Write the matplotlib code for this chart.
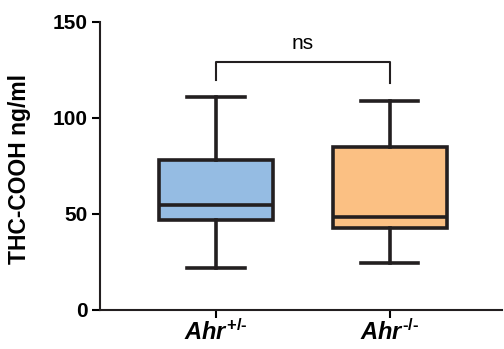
import matplotlib
matplotlib.use("Agg")
import matplotlib.pyplot as plt

plt.rcParams['font.family'] = ['Liberation Sans', 'DejaVu Sans']
plt.rcParams['font.weight'] = 'bold'
plt.rcParams['mathtext.fontset'] = 'custom'
plt.rcParams['mathtext.rm'] = 'Liberation Sans:bold'
plt.rcParams['mathtext.it'] = 'Liberation Sans:italic:bold'
plt.rcParams['mathtext.bf'] = 'Liberation Sans:bold'

# box summary values
groups = ['$\\mathit{Ahr}^{\\mathit{+/\u2010}}$', '$\\mathit{Ahr}^{\\mathit{\u2010/\u2010}}$']
medians = [54.5, 48.5]
q1 = [47.0, 42.7]
q3 = [78.0, 84.7]
whislo = [22.0, 24.5]
whishi = [111.0, 109.0]
colors = ['#95BCE3', '#FBC083']
ink = '#231F20'

stats = []
for i in range(2):
    stats.append(dict(med=medians[i], q1=q1[i], q3=q3[i],
                      whislo=whislo[i], whishi=whishi[i], fliers=[]))

fig = plt.figure(figsize=(5.04, 3.49), dpi=100)
ax = fig.add_axes([0.198, 0.112, 0.798, 0.825])

bp = ax.bxp(stats, positions=[1, 2], widths=0.655, patch_artist=True,
            showfliers=False,
            boxprops=dict(linewidth=2.6, edgecolor=ink),
            medianprops=dict(linewidth=2.6, color=ink),
            whiskerprops=dict(linewidth=2.6, color=ink),
            capprops=dict(linewidth=2.6, color=ink),
            capwidths=0.33)
for patch, c in zip(bp['boxes'], colors):
    patch.set_facecolor(c)

# significance bracket
ax.plot([1, 1, 2, 2], [120, 129, 129, 118], color=ink, lw=1.5)
ax.text(1.5, 134, 'ns', ha='center', va='bottom', fontsize=15, fontweight='normal')

ax.set_xlim(0.333, 2.645)
ax.set_ylim(0, 150)
ax.set_yticks([0, 50, 100, 150])
ax.set_xticks([1, 2])
ax.set_xticklabels(groups, fontsize=17)
ax.tick_params(axis='y', labelsize=15, length=6, width=1.5, pad=3)
ax.tick_params(axis='x', length=6, width=1.5, pad=1)
for s in ['top', 'right']:
    ax.spines[s].set_visible(False)
for s in ['left', 'bottom']:
    ax.spines[s].set_linewidth(1.5)
    ax.spines[s].set_color(ink)
ax.set_ylabel('THC-COOH ng/ml', fontsize=16.5, fontweight='bold')
ax.yaxis.set_label_coords(-0.17, 0.49)

fig.savefig('out.png', dpi=100)
